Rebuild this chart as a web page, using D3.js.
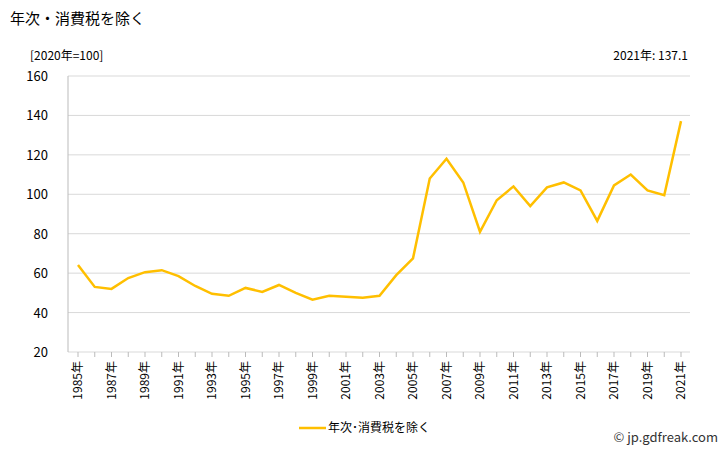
<!DOCTYPE html>
<html><head><meta charset="utf-8">
<script src="https://cdn.jsdelivr.net/npm/d3@7"></script>
<style>body{margin:0;background:#fff;font-family:"Noto Sans CJK JP","Liberation Sans",sans-serif}</style>
</head><body>
<script>
// 年次・消費税を除く, 2020=100
var years = d3.range(1985, 2022);
var values = [64.1, 53, 52, 57.5, 60.5, 61.5, 58.5, 53.5, 49.5, 48.5, 52.5, 50.5, 54, 50, 46.5, 48.5, 48, 47.5, 48.5,
  59, 67.5, 108, 118, 106, 81, 97, 104, 94, 103.5, 106, 102, 86.5, 104.5, 110, 102, 99.5, 137.1];
var yTicks = [20, 40, 60, 80, 100, 120, 140, 160];

var W = 728, H = 450;
var svg = d3.select("body").append("svg").attr("width", W).attr("height", H);

var x = d3.scalePoint().domain(years).range([78, 681]);
var y = d3.scaleLinear().domain([20, 160]).range([352, 76]);

// title
svg.append("text").attr("x", 10).attr("y", 24).attr("font-size", 15).text("年次・消費税を除く");
svg.append("text").attr("x", 30).attr("y", 60).attr("font-size", 12).text("[2020年=100]");
svg.append("text").attr("x", 688).attr("y", 60).attr("font-size", 12).attr("text-anchor", "end").text("2021年: 137.1");

// grid
svg.selectAll(".grid").data(yTicks).enter().append("line")
  .attr("x1", 68).attr("x2", 690)
  .attr("y1", d => y(d)).attr("y2", d => y(d))
  .attr("stroke", "#d9d9d9");
svg.selectAll(".yl").data(yTicks).enter().append("text")
  .attr("x", 48).attr("y", d => y(d) + 5).attr("text-anchor", "end")
  .attr("font-size", 13).text(d => d);
svg.append("line").attr("x1", 68).attr("x2", 68).attr("y1", 76).attr("y2", 352).attr("stroke", "#bbb");

// x ticks
svg.selectAll(".xt").data(years).enter().append("line")
  .attr("x1", d => x(d)).attr("x2", d => x(d)).attr("y1", 352).attr("y2", 357).attr("stroke", "#bbb");
svg.selectAll(".xl").data(years.filter(d => (d - 1985) % 2 === 0)).enter().append("text")
  .attr("transform", d => "translate(" + (x(d) + 4) + ",361) rotate(-90)")
  .attr("text-anchor", "end").attr("font-size", 12).text(d => d + "年");

// line
svg.append("path").datum(values)
  .attr("fill", "none").attr("stroke", "#ffbf00").attr("stroke-width", 2.5)
  .attr("d", d3.line().x((d, i) => x(years[i])).y(d => y(d)));

// legend
svg.append("line").attr("x1", 299).attr("x2", 326).attr("y1", 428).attr("y2", 428)
  .attr("stroke", "#ffbf00").attr("stroke-width", 2.5);
svg.append("text").attr("x", 328).attr("y", 432).attr("font-size", 12).text("年次･消費税を除く");

svg.append("text").attr("x", 718).attr("y", 442).attr("text-anchor", "end")
  .attr("font-size", 13).attr("fill", "#333").text("© jp.gdfreak.com");
</script>
</body></html>
